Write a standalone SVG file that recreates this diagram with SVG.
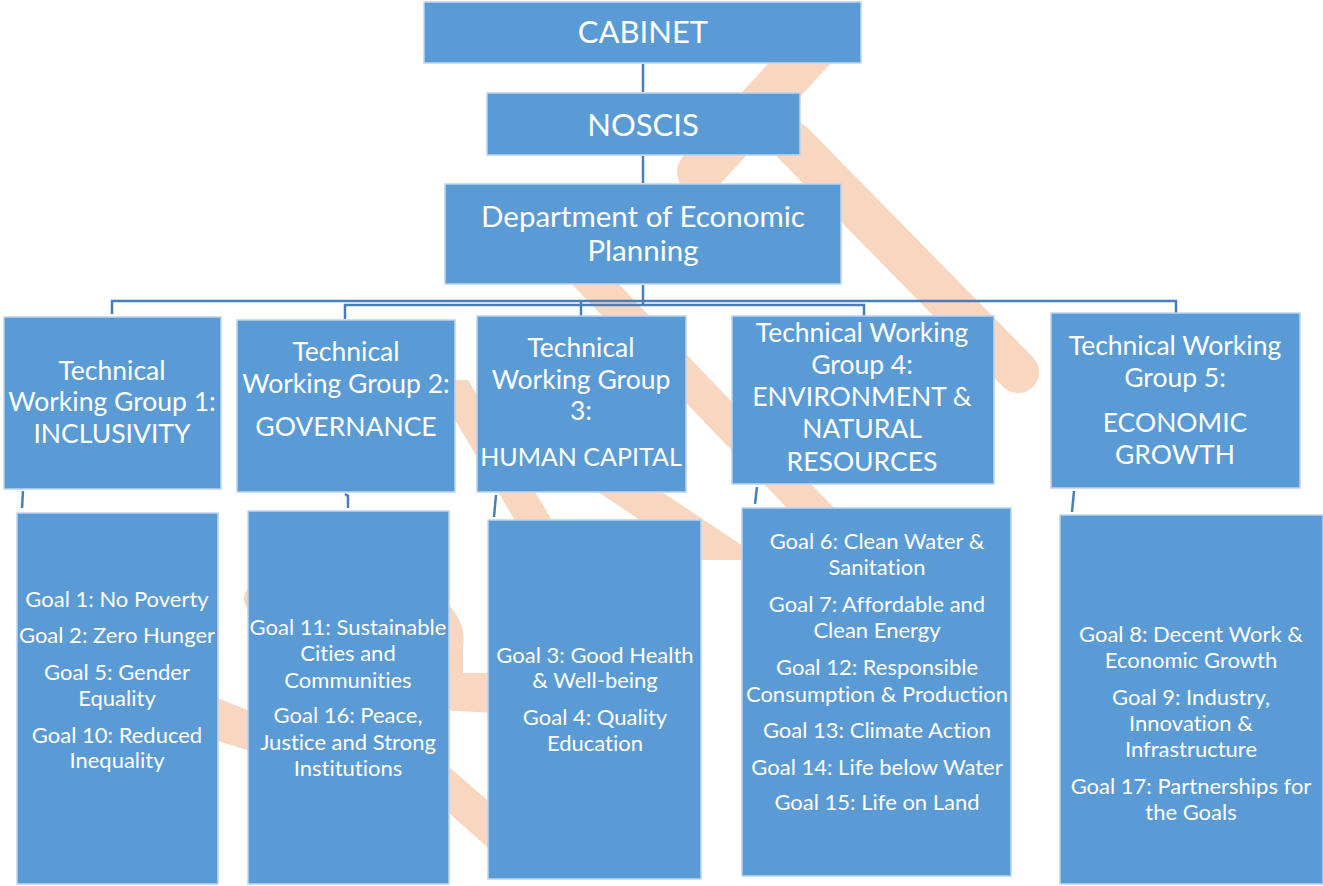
<svg xmlns="http://www.w3.org/2000/svg" width="1323" height="886" viewBox="0 0 1323 886">
<style>
.box{fill:#5B9BD5;stroke:#BDD4EE;stroke-width:1.5}
.t{font-family:Lato,"Liberation Sans",sans-serif;fill:#FFFFFF;text-anchor:middle;font-variant-ligatures:none;font-feature-settings:"liga" 0,"clig" 0,"dlig" 0}
.hd{font-size:31px}
.tw{font-size:26.5px}
.g{font-size:22px}
.conn{stroke:#4A7EBB;stroke-width:2.5;fill:none}
.wm{fill:#F8D6BF}
.wml{stroke:#F8D6BF;fill:none}
</style>
<rect width="1323" height="886" fill="#FFFFFF"/>
<g id="watermark">
  <line class="wml" x1="821" y1="40" x2="700" y2="172" stroke-width="46" stroke-linecap="round"/>
  <line class="wml" x1="792" y1="142" x2="1018" y2="372" stroke-width="42" stroke-linecap="round"/>
  <polygon class="wm" points="491,200 538,200 884,560 837,560"/>
  <polygon class="wm" points="490,420 554,420 764,560 700,560"/>
  <polygon class="wm" points="431,380 468,380 553,522 516,522"/>
  <path class="wm" d="M440,597 Q468,620 463,647 L463,673 L495,673 L495,713 L440,710 Z"/>
  <polygon class="wm" points="440,759 495,807 495,854 440,805"/>
  <polygon class="wm" points="215,697 250,711 250,751 215,740"/>
  <path class="wm" d="M250,587 Q238,598 250,612 Z"/>
</g>
<g id="connectors">
  <path class="conn" d="M643,64 V92"/>
  <path class="conn" d="M643,156 V183"/>
  <path class="conn" d="M643,285 V305"/>
  <path class="conn" d="M112,314 V301 H1176 V314"/>
  <path class="conn" d="M345,319 V305 H864 V316"/>
  <path class="conn" d="M581,302 V316"/>
  <path class="conn" d="M23,491 L22,508"/>
  <path class="conn" d="M345,494 L348,496 V508"/>
  <path class="conn" d="M496,495 L494,517"/>
  <path class="conn" d="M757,487 L755,504"/>
  <path class="conn" d="M1074,491 L1072,512"/>
</g>
<g id="cabinet">
  <rect class="box" x="424" y="2" width="437" height="61"/>
  <text class="t hd" x="643" y="43">CABINET</text>
</g>
<g id="noscis">
  <rect class="box" x="487" y="93" width="313" height="62"/>
  <text class="t hd" x="643" y="136">NOSCIS</text>
</g>
<g id="dep">
  <rect class="box" x="445" y="184" width="396" height="100"/>
  <text class="t" style="font-size:29.5px" x="643" y="227">Department of Economic</text>
  <text class="t" style="font-size:29.5px" x="643" y="261">Planning</text>
</g>
<g id="twg1">
  <rect class="box" x="4" y="317" width="217" height="172"/>
  <text class="t tw" x="112" y="380">Technical</text>
  <text class="t tw" x="112" y="411">Working Group 1:</text>
  <text class="t tw" x="112" y="443">INCLUSIVITY</text>
</g>
<g id="twg2">
  <rect class="box" x="237" y="320" width="218" height="172"/>
  <text class="t tw" x="346" y="361">Technical</text>
  <text class="t tw" x="346" y="393">Working Group 2:</text>
  <text class="t tw" x="346" y="436">GOVERNANCE</text>
</g>
<g id="twg3">
  <rect class="box" x="477" y="316" width="209" height="176"/>
  <text class="t tw" x="581" y="357">Technical</text>
  <text class="t tw" x="581" y="389">Working Group</text>
  <text class="t tw" x="581" y="420">3:</text>
  <text class="t" style="font-size:25px" x="581" y="466">HUMAN CAPITAL</text>
</g>
<g id="twg4">
  <rect class="box" x="732" y="316" width="262" height="168"/>
  <text class="t tw" x="862" y="342">Technical Working</text>
  <text class="t tw" x="862" y="374">Group 4:</text>
  <text class="t tw" x="862" y="406">ENVIRONMENT &amp;</text>
  <text class="t tw" x="862" y="438">NATURAL</text>
  <text class="t tw" x="862" y="471">RESOURCES</text>
</g>
<g id="twg5">
  <rect class="box" x="1051" y="313" width="249" height="175"/>
  <text class="t tw" x="1175" y="355">Technical Working</text>
  <text class="t tw" x="1175" y="387">Group 5:</text>
  <text class="t tw" x="1175" y="432">ECONOMIC</text>
  <text class="t tw" x="1175" y="464">GROWTH</text>
</g>
<g id="goals1">
  <rect class="box" x="17" y="513" width="201" height="371"/>
  <text class="t g" x="117" y="607">Goal 1: No Poverty</text>
  <text class="t g" x="117" y="643">Goal 2: Zero Hunger</text>
  <text class="t g" x="117" y="680">Goal 5: Gender</text>
  <text class="t g" x="117" y="706">Equality</text>
  <text class="t g" x="117" y="743">Goal 10: Reduced</text>
  <text class="t g" x="117" y="768">Inequality</text>
</g>
<g id="goals2">
  <rect class="box" x="248" y="511" width="201" height="373"/>
  <text class="t g" x="348" y="635">Goal 11: Sustainable</text>
  <text class="t g" x="348" y="661">Cities and</text>
  <text class="t g" x="348" y="688">Communities</text>
  <text class="t g" x="348" y="723">Goal 16: Peace,</text>
  <text class="t g" x="348" y="750">Justice and Strong</text>
  <text class="t g" x="348" y="776">Institutions</text>
</g>
<g id="goals3">
  <rect class="box" x="488" y="520" width="213" height="359"/>
  <text class="t g" x="595" y="663">Goal 3: Good Health</text>
  <text class="t g" x="595" y="688">&amp; Well-being</text>
  <text class="t g" x="595" y="725">Goal 4: Quality</text>
  <text class="t g" x="595" y="751">Education</text>
</g>
<g id="goals4">
  <rect class="box" x="742" y="508" width="269" height="368"/>
  <text class="t g" x="877" y="549">Goal 6: Clean Water  &amp;</text>
  <text class="t g" x="877" y="575">Sanitation</text>
  <text class="t g" x="877" y="612">Goal 7: Affordable and</text>
  <text class="t g" x="877" y="638">Clean Energy</text>
  <text class="t g" x="877" y="675">Goal 12: Responsible</text>
  <text class="t g" x="877" y="702">Consumption &amp; Production</text>
  <text class="t g" x="877" y="738">Goal 13: Climate  Action</text>
  <text class="t g" x="877" y="775">Goal 14: Life below Water</text>
  <text class="t g" x="877" y="810">Goal 15: Life on Land</text>
</g>
<g id="goals5">
  <rect class="box" x="1060" y="515" width="263" height="369"/>
  <text class="t g" x="1191" y="642">Goal 8: Decent Work &amp;</text>
  <text class="t g" x="1191" y="668">Economic Growth</text>
  <text class="t g" x="1191" y="705">Goal 9: Industry,</text>
  <text class="t g" x="1191" y="731">Innovation &amp;</text>
  <text class="t g" x="1191" y="757">Infrastructure</text>
  <text class="t g" x="1191" y="794">Goal 17: Partnerships for</text>
  <text class="t g" x="1191" y="820">the Goals</text>
</g>
</svg>
